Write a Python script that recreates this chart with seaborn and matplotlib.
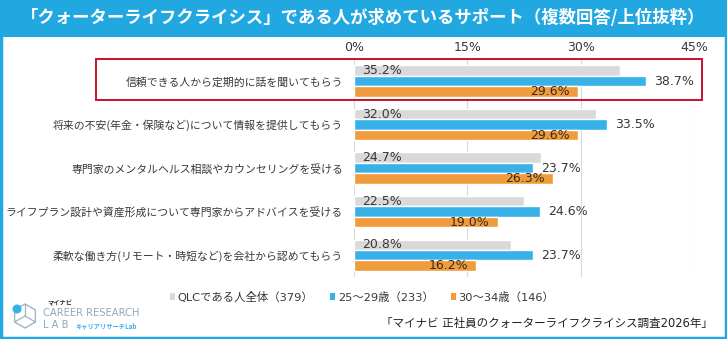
import numpy as np
import pandas as pd
import seaborn as sns
import matplotlib
matplotlib.use("Agg")
import matplotlib.pyplot as plt
from matplotlib.patches import Rectangle, Ellipse, Polygon
from matplotlib.lines import Line2D

# ---- data ----
items = [
    "信頼できる人から定期的に話を聞いてもらう",
    "将来の不安(年金・保険など)について情報を提供してもらう",
    "専門家のメンタルヘルス相談やカウンセリングを受ける",
    "ライフプラン設計や資産形成について専門家からアドバイスを受ける",
    "柔軟な働き方(リモート・時短など)を会社から認めてもらう",
]
groups = ["QLCである人全体（379）", "25～29歳（233）", "30～34歳（146）"]
qlc_all = [35.2, 32.0, 24.7, 22.5, 20.8]
age_25_29 = [38.7, 33.5, 23.7, 24.6, 23.7]
age_30_34 = [29.6, 29.6, 26.3, 19.0, 16.2]
x_ticks = [0, 15, 30, 45]

colors = ["#D9D9D9", "#38B0E8", "#F09C3C"]
border_blue = "#22A8E1"
text_col = "#383838"

df = pd.DataFrame({
    "item": items * 3,
    "group": [g for g in groups for _ in items],
    "value": qlc_all + age_25_29 + age_30_34,
})

sns.set_theme(style="white")
plt.rcParams["font.family"] = ["DejaVu Sans", "Noto Sans CJK JP"]

W, H = 727, 339
fig = plt.figure(figsize=(W / 100, H / 100), dpi=100)


def fx(px):
    return px / W


def fy(py):
    return 1 - py / H


# plot area
ax_left, ax_right, ax_top, ax_bottom = 354, 694, 58, 277
ax = fig.add_axes([fx(ax_left), fy(ax_bottom), fx(ax_right - ax_left), (ax_bottom - ax_top) / H])

sns.barplot(data=df, y="item", x="value", hue="group", hue_order=groups,
            order=items, orient="h", palette=colors, saturation=1,
            width=0.72, ax=ax, legend=False)

ax.set_xlim(0, 45)
ax.set_ylim(4.5, -0.53)
ax.set_xlabel("")
ax.set_ylabel("")
ax.xaxis.tick_top()
ax.set_xticks(x_ticks)
ax.set_xticklabels([f"{t}%" for t in x_ticks], fontsize=9, color=text_col,
                   family=["DejaVu Sans"])
ax.tick_params(axis="x", length=0, pad=3)
ax.tick_params(axis="y", length=0, pad=8)
for lab in ax.get_yticklabels():
    lab.set_fontsize(7.8)
    lab.set_color(text_col)
    lab.set_family(["Noto Sans CJK JP"])

for s in ax.spines.values():
    s.set_visible(False)
for t in x_ticks:
    ax.axvline(t, color="#D9D9D9", lw=0.8, zorder=0)

# value labels
c_all, c_young, c_old = ax.containers[:3]
for bar, v in zip(c_all, qlc_all):
    ax.text(1.05, bar.get_y() + bar.get_height() / 2, f"{v:.1f}%",
            ha="left", va="center", fontsize=9, color=text_col)
for bar, v in zip(c_young, age_25_29):
    ax.text(v + 1.05, bar.get_y() + bar.get_height() / 2, f"{v:.1f}%",
            ha="left", va="center", fontsize=9, color=text_col)
for bar, v in zip(c_old, age_30_34):
    ax.text(v - 1.05, bar.get_y() + bar.get_height() / 2, f"{v:.1f}%",
            ha="right", va="center", fontsize=9, color="#3a2a1a")

# highlight box around first item
fig.add_artist(Rectangle((fx(96), fy(100)), fx(702 - 96), (100 - 59) / H,
                         transform=fig.transFigure, fill=False,
                         edgecolor="#C8102E", lw=1.4))

# title band and outer frame
fig.add_artist(Rectangle((0, fy(37)), 1, 37 / H, transform=fig.transFigure,
                         facecolor=border_blue, edgecolor="none", zorder=0))
fig.add_artist(Rectangle((fx(1.5), fy(337.5)), fx(724), 336 / H,
                         transform=fig.transFigure, fill=False,
                         edgecolor=border_blue, lw=2.5))
fig.text(0.5, fy(18), "「クォーターライフクライシス」である人が求めているサポート（複数回答/上位抜粋）",
         ha="center", va="center", fontsize=12.5, color="white", weight="bold",
         family=["Noto Sans CJK JP"])

# legend
handles = [Rectangle((0, 0), 1, 1, facecolor=c, edgecolor="none") for c in colors]
fig.legend(handles, groups, loc="center", bbox_to_anchor=(fx(362), fy(297)),
           ncol=3, frameon=False, fontsize=8.2, handlelength=0.45,
           handleheight=0.45, handletextpad=0.2, columnspacing=1.5,
           labelcolor=text_col)

# source
fig.text(fx(713), fy(323), "「マイナビ 正社員のクォーターライフクライシス調査2026年」",
         ha="right", va="center", fontsize=8.3, color="#222222",
         family=["DejaVu Sans", "Noto Sans CJK JP"])

# brand mark
hx, hy, r = 25, 316, 12
pts = [(hx + r * np.cos(a), hy + r * np.sin(a)) for a in np.radians([90, 150, 210, 270, 330, 30])]
fig.add_artist(Polygon([(fx(x), fy(y)) for x, y in pts], closed=True,
                       transform=fig.transFigure, fill=False,
                       edgecolor="#9fb4c4", lw=1.0))
for (x, y) in [pts[1], pts[3], pts[5]]:
    fig.add_artist(Line2D([fx(hx), fx(x)], [fy(hy), fy(y)],
                          transform=fig.transFigure, color="#9fb4c4", lw=0.9))
fig.add_artist(Ellipse((fx(17), fy(309)), fx(9), 9 / H, transform=fig.transFigure,
                       facecolor="#38B0E8", edgecolor="none"))
fig.text(fx(47), fy(303), "マイナビ", fontsize=4.5, weight="bold", color="#333333",
         va="center", family=["Noto Sans CJK JP"])
fig.text(fx(43), fy(313.5), "CAREER RESEARCH", fontsize=7.2, color="#93a6b5",
         va="center", family=["DejaVu Sans"])
fig.text(fx(43), fy(325.5), "L A B", fontsize=7.2, color="#93a6b5",
         va="center", family=["DejaVu Sans"])
fig.text(fx(75), fy(325.5), "キャリアリサーチLab", fontsize=4.5, color="#38B0E8",
         weight="bold", va="center", family=["Noto Sans CJK JP"])

fig.savefig("out.png", dpi=100, facecolor="white")
